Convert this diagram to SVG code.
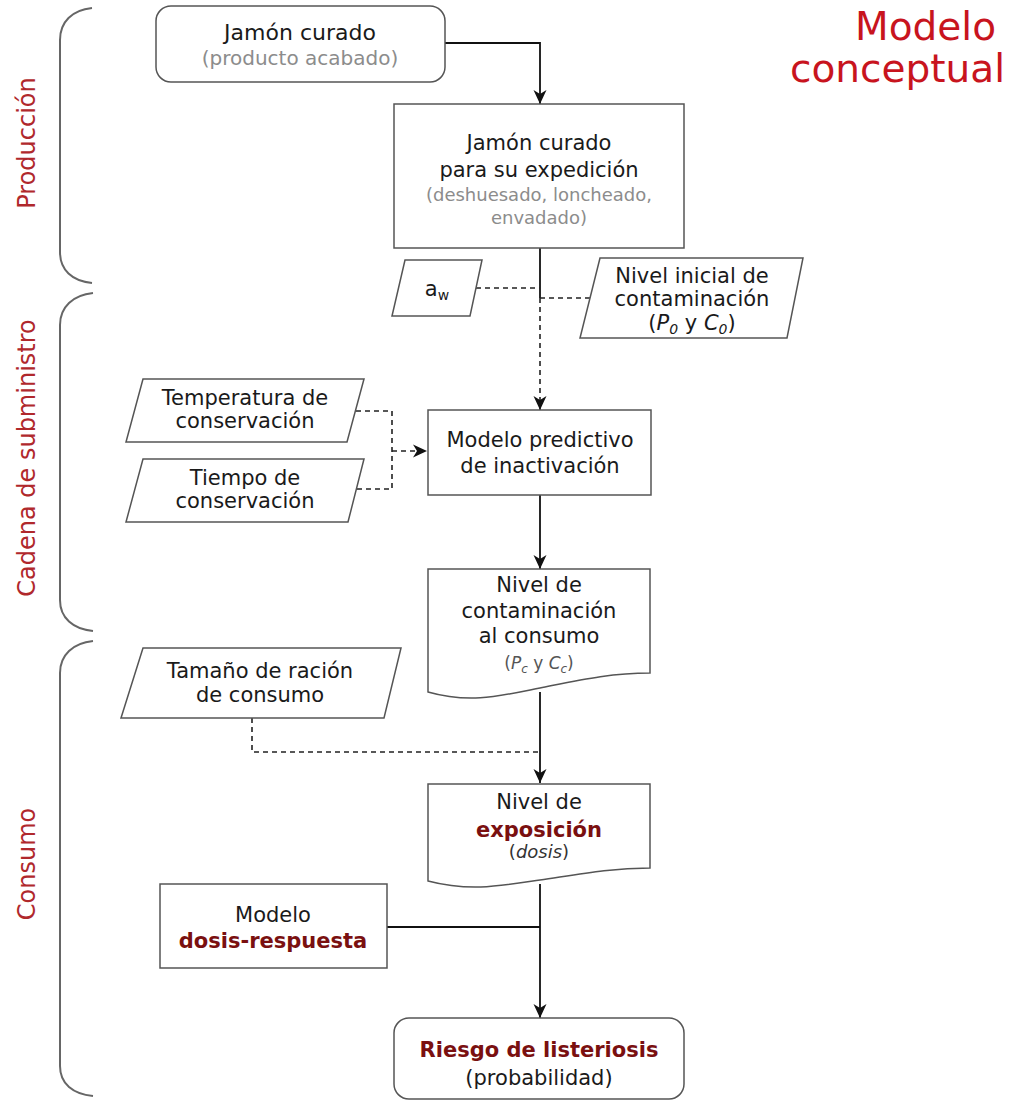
<svg xmlns="http://www.w3.org/2000/svg" width="1014" height="1102" viewBox="0 0 1014 1102">
  <defs>
    <marker id="arr" viewBox="0 0 16 16" refX="15" refY="8" markerWidth="16" markerHeight="16" markerUnits="userSpaceOnUse" orient="auto">
      <path d="M1,1.5 L15,8 L1,14.5 L5,8 z" fill="#111"/>
    </marker>
    <style>
      .box { fill: #fff; stroke: #555; stroke-width: 1.5; }
      .t { font-family: "DejaVu Sans", "Liberation Sans", sans-serif; font-size: 21px; fill: #1a1a1a; text-anchor: middle; }
      .g { fill: #8c8c8c; font-size: 18px; }
      .b { font-weight: bold; fill: #7a1010; }
      .sec { font-family: "DejaVu Sans", "Liberation Sans", sans-serif; font-size: 24px; fill: #b0282c; text-anchor: middle; }
      .title { font-family: "DejaVu Sans", "Liberation Sans", sans-serif; font-size: 39px; fill: #c8141e; text-anchor: end; }
      .solid { fill: none; stroke: #111; stroke-width: 1.8; }
      .dash { fill: none; stroke: #222; stroke-width: 1.6; stroke-dasharray: 5 4; }
      .brk { fill: none; stroke: #666; stroke-width: 2; }
    </style>
  </defs>

  <g id="brackets">
    <path class="brk" d="M92,8 C72,10 60,22 60,40 V252 C60,270 72,281 92,283"/>
    <path class="brk" d="M93,293 C73,295 60,307 60,325 V600 C60,618 73,629 93,631"/>
    <path class="brk" d="M93,641 C73,643 60,655 60,673 V1066 C60,1084 73,1094 93,1096"/>
    <text class="sec" transform="translate(35,143) rotate(-90)">Producción</text>
    <text class="sec" transform="translate(35,458) rotate(-90)">Cadena de subministro</text>
    <text class="sec" transform="translate(35,864) rotate(-90)">Consumo</text>
  </g>

  <g id="title">
    <text class="title" x="996" y="40">Modelo</text>
    <text class="title" x="1005" y="82">conceptual</text>
  </g>

  <g id="connectors">
    <path class="solid" d="M445,43 H540 V104" marker-end="url(#arr)"/>
    <path class="solid" d="M540,248 V298"/>
    <path class="dash" d="M476,288 H540"/>
    <path class="dash" d="M590,298 H540"/>
    <path class="dash" d="M540,298 V410" marker-end="url(#arr)"/>
    <path class="dash" d="M356,411 H392 V489 H356"/>
    <path class="dash" d="M392,451 H427" marker-end="url(#arr)"/>
    <path class="solid" d="M540,495 V569" marker-end="url(#arr)"/>
    <path class="solid" d="M540,692 V783" marker-end="url(#arr)"/>
    <path class="dash" d="M252,718 V752 H540"/>
    <path class="solid" d="M540,884 V1018" marker-end="url(#arr)"/>
    <path class="solid" d="M387,927 H540"/>
  </g>

  <g id="n-jamon">
    <rect class="box" x="156" y="6" width="289" height="76" rx="15"/>
    <text class="t" x="300" y="40" style="font-size:22px">Jamón curado</text>
    <text class="t g" x="300" y="65" style="font-size:20px">(producto acabado)</text>
  </g>

  <g id="n-expedicion">
    <rect class="box" x="394" y="104" width="290" height="144"/>
    <text class="t" x="539" y="150">Jamón curado</text>
    <text class="t" x="539" y="177">para su expedición</text>
    <text class="t g" x="539" y="201">(deshuesado, loncheado,</text>
    <text class="t g" x="539" y="224">envadado)</text>
  </g>

  <g id="n-aw">
    <path class="box" d="M405,260 H482 L470,316 H392 Z"/>
    <text class="t" x="437" y="296">a<tspan font-size="14" dy="4">w</tspan></text>
  </g>

  <g id="n-nivel-inicial">
    <path class="box" d="M600,258 H803 L787,338 H580 Z"/>
    <text class="t" x="692" y="283">Nivel inicial de</text>
    <text class="t" x="692" y="306">contaminación</text>
    <text class="t" x="692" y="330">(<tspan font-style="italic">P<tspan font-size="14" dy="4">0</tspan></tspan><tspan dy="-4"> y </tspan><tspan font-style="italic">C<tspan font-size="14" dy="4">0</tspan></tspan><tspan dy="-4">)</tspan></text>
  </g>

  <g id="n-temperatura">
    <path class="box" d="M143,379 H364 L347,442 H126 Z"/>
    <text class="t" x="245" y="405">Temperatura de</text>
    <text class="t" x="245" y="428">conservación</text>
  </g>

  <g id="n-tiempo">
    <path class="box" d="M143,459 H364 L348,522 H126 Z"/>
    <text class="t" x="245" y="485">Tiempo de</text>
    <text class="t" x="245" y="508">conservación</text>
  </g>

  <g id="n-modelo-predictivo">
    <rect class="box" x="428" y="410" width="223" height="85"/>
    <text class="t" x="540" y="447">Modelo predictivo</text>
    <text class="t" x="540" y="473">de inactivación</text>
  </g>

  <g id="n-nivel-consumo">
    <path class="box" d="M428,569 H650 V673 C610,673 580,680 540,688 C500,696 470,704 428,692 Z"/>
    <text class="t" x="539" y="592">Nivel de</text>
    <text class="t" x="539" y="618">contaminación</text>
    <text class="t" x="539" y="643">al consumo</text>
    <text class="t" x="539" y="669" style="font-size:17px;fill:#555">(<tspan font-style="italic">P<tspan font-size="12" dy="4">c</tspan></tspan><tspan dy="-4"> y </tspan><tspan font-style="italic">C<tspan font-size="12" dy="4">c</tspan></tspan><tspan dy="-4">)</tspan></text>
  </g>

  <g id="n-racion">
    <path class="box" d="M143,648 H401 L384,718 H121 Z"/>
    <text class="t" x="260" y="678">Tamaño de ración</text>
    <text class="t" x="260" y="702">de consumo</text>
  </g>

  <g id="n-exposicion">
    <path class="box" d="M428,784 H650 V868 C610,868 580,874 540,880 C500,886 470,892 428,881 Z"/>
    <text class="t" x="539" y="809">Nivel de</text>
    <text class="t b" x="539" y="837">exposición</text>
    <text class="t" x="539" y="858" style="font-size:18px;fill:#333">(<tspan font-style="italic">dosis</tspan>)</text>
  </g>

  <g id="n-dosis-respuesta">
    <rect class="box" x="160" y="884" width="227" height="84"/>
    <text class="t" x="273" y="922">Modelo</text>
    <text class="t b" x="273" y="948">dosis-respuesta</text>
  </g>

  <g id="n-riesgo">
    <rect class="box" x="394" y="1018" width="290" height="81" rx="15"/>
    <text class="t b" x="539" y="1057">Riesgo de listeriosis</text>
    <text class="t" x="539" y="1085">(probabilidad)</text>
  </g>
</svg>
